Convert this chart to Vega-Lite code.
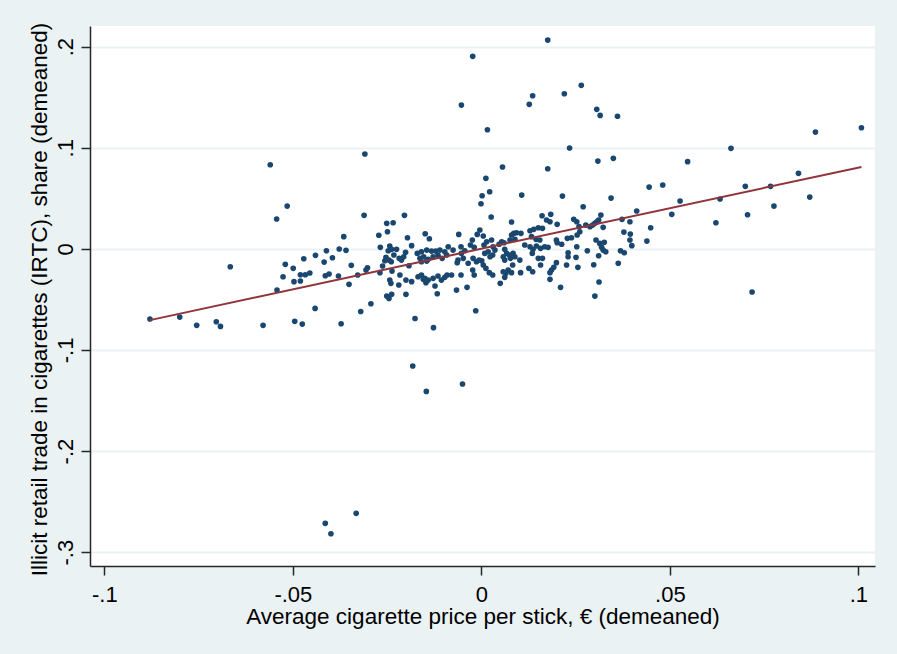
{
  "$schema": "https://vega.github.io/schema/vega-lite/v6.json",
  "width": 785,
  "height": 540,
  "autosize": {"type": "none"},
  "padding": {"left": 90, "top": 26, "right": 22, "bottom": 88},
  "background": "#EAF2F3",
  "config": {
    "view": {"fill": "#FFFFFF", "stroke": null},
    "font": "Liberation Sans",
    "axis": {
      "labelFont": "Liberation Sans",
      "titleFont": "Liberation Sans",
      "labelColor": "#000000",
      "titleColor": "#000000",
      "titleFontWeight": "normal",
      "labelFontSize": 22,
      "titleFontSize": 22.5,
      "domainColor": "#262626",
      "domainWidth": 1.5,
      "tickColor": "#262626",
      "tickWidth": 1.5,
      "tickSize": 9,
      "gridColor": "#EAF2F3",
      "gridWidth": 2,
      "gridOpacity": 1
    }
  },
  "datasets": {
    "pts": [
      {"x":-0.0560,"y":0.0832},{"x":-0.0515,"y":0.0423},{"x":-0.0543,"y":0.0295},{"x":-0.0666,"y":-0.0177},{"x":-0.0411,"y":-0.0019},{"x":-0.0440,"y":-0.0064},{"x":-0.0471,"y":-0.0098},{"x":-0.0417,"y":-0.0131},{"x":-0.0520,"y":-0.0153},{"x":-0.0499,"y":-0.0193},{"x":-0.0455,"y":-0.0239},{"x":-0.0467,"y":-0.0256},{"x":-0.0480,"y":-0.0256},{"x":-0.0414,"y":-0.0266},{"x":-0.0404,"y":-0.0249},{"x":-0.0526,"y":-0.0276},{"x":-0.0497,"y":-0.0325},{"x":-0.0480,"y":-0.0318},{"x":-0.0542,"y":-0.0408},{"x":-0.0441,"y":-0.0589},{"x":-0.0879,"y":-0.0694},{"x":-0.0800,"y":-0.0675},{"x":-0.0755,"y":-0.0757},{"x":-0.0703,"y":-0.0721},{"x":-0.0692,"y":-0.0767},{"x":-0.0579,"y":-0.0757},{"x":-0.0495,"y":-0.0717},{"x":-0.0475,"y":-0.0744},
      {"x":-0.0311,"y":0.0331},{"x":-0.0204,"y":0.0331},{"x":-0.0251,"y":0.0252},{"x":-0.0234,"y":0.0258},{"x":-0.0249,"y":0.0169},{"x":-0.0272,"y":0.0134},{"x":-0.0365,"y":0.0120},{"x":-0.0149,"y":0.0149},{"x":-0.0138,"y":0.0100},{"x":-0.0196,"y":0.0110},{"x":-0.0185,"y":0.0031},{"x":-0.0268,"y":0.0015},{"x":-0.0243,"y":0.0028},{"x":-0.0377,"y":-0.0002},{"x":-0.0359,"y":-0.0015},{"x":-0.0395,"y":-0.0088},
      {"x":-0.0247,"y":-0.0019},{"x":-0.0238,"y":-0.0005},{"x":-0.0253,"y":-0.0084},{"x":-0.0245,"y":-0.0111},{"x":-0.0232,"y":-0.0061},{"x":-0.0225,"y":-0.0005},{"x":-0.0218,"y":-0.0094},{"x":-0.0212,"y":-0.0111},{"x":-0.0206,"y":-0.0078},{"x":-0.0201,"y":-0.0035},{"x":-0.0239,"y":-0.0128},{"x":-0.0256,"y":-0.0118},
      {"x":-0.0170,"y":-0.0045},{"x":-0.0159,"y":-0.0029},{"x":-0.0145,"y":-0.0012},{"x":-0.0132,"y":-0.0022},{"x":-0.0121,"y":-0.0022},{"x":-0.0110,"y":-0.0012},{"x":-0.0097,"y":-0.0029},{"x":-0.0088,"y":0.0021},
      {"x":-0.0163,"y":-0.0094},{"x":-0.0153,"y":-0.0078},{"x":-0.0141,"y":-0.0104},{"x":-0.0128,"y":-0.0078},{"x":-0.0115,"y":-0.0064},{"x":-0.0104,"y":-0.0094},{"x":-0.0092,"y":-0.0061},{"x":-0.0159,"y":-0.0128},{"x":-0.0145,"y":-0.0121},
      {"x":-0.0345,"y":-0.0163},{"x":-0.0302,"y":-0.0187},{"x":-0.0306,"y":-0.0210},{"x":-0.0262,"y":-0.0170},{"x":-0.0269,"y":-0.0236},{"x":-0.0237,"y":-0.0220},{"x":-0.0192,"y":-0.0167},{"x":-0.0379,"y":-0.0269},{"x":-0.0328,"y":-0.0259},{"x":-0.0351,"y":-0.0351},{"x":-0.0216,"y":-0.0259},{"x":-0.0243,"y":-0.0309},{"x":-0.0240,"y":-0.0341},{"x":-0.0200,"y":-0.0309},{"x":-0.0185,"y":-0.0325},{"x":-0.0219,"y":-0.0358},
      {"x":-0.0168,"y":-0.0276},{"x":-0.0159,"y":-0.0259},{"x":-0.0154,"y":-0.0302},{"x":-0.0147,"y":-0.0335},{"x":-0.0150,"y":-0.0292},{"x":-0.0141,"y":-0.0309},{"x":-0.0128,"y":-0.0292},{"x":-0.0115,"y":-0.0269},{"x":-0.0106,"y":-0.0309},{"x":-0.0097,"y":-0.0282},{"x":-0.0091,"y":-0.0259},{"x":-0.0123,"y":-0.0368},{"x":-0.0117,"y":-0.0444},
      {"x":-0.0251,"y":-0.0467},{"x":-0.0245,"y":-0.0490},{"x":-0.0238,"y":-0.0450},{"x":-0.0200,"y":-0.0450},{"x":-0.0293,"y":-0.0543},{"x":-0.0320,"y":-0.0620},{"x":-0.0176,"y":-0.0689},
      {"x":-0.0372,"y":-0.0741},{"x":-0.0127,"y":-0.0780},{"x":-0.0015,"y":-0.0612},{"x":-0.0182,"y":-0.1159},{"x":-0.0146,"y":-0.1410},{"x":-0.0050,"y":-0.1337},
      {"x":-0.0414,"y":-0.2715},{"x":-0.0399,"y":-0.2818},{"x":-0.0332,"y":-0.2616},{"x":-0.0309,"y":0.0938},
      {"x":0.0002,"y":0.0525},{"x":0.0022,"y":0.0565},{"x":-0.0001,"y":0.0446},{"x":0.0107,"y":0.0532},{"x":0.0215,"y":0.0522},{"x":0.0026,"y":0.0315},{"x":0.0080,"y":0.0265},{"x":0.0161,"y":0.0327},{"x":0.0184,"y":0.0341},{"x":0.0173,"y":0.0285},{"x":0.0201,"y":0.0242},{"x":0.0182,"y":0.0268},
      {"x":-0.0004,"y":0.0186},{"x":-0.0011,"y":0.0143},{"x":-0.0060,"y":0.0143},{"x":-0.0075,"y":-0.0012},{"x":-0.0054,"y":0.0021},{"x":-0.0024,"y":0.0087},{"x":-0.0029,"y":0.0038},{"x":-0.0019,"y":0.0015},
      {"x":0.0005,"y":0.0127},{"x":0.0014,"y":0.0070},{"x":0.0007,"y":0.0038},{"x":0.0027,"y":0.0087},{"x":0.0031,"y":0.0021},{"x":0.0054,"y":0.0070},{"x":0.0047,"y":0.0045},{"x":0.0060,"y":0.0060},
      {"x":0.0080,"y":0.0137},{"x":0.0086,"y":0.0153},{"x":0.0093,"y":0.0159},{"x":0.0105,"y":0.0153},{"x":0.0076,"y":0.0087},{"x":0.0089,"y":0.0094},
      {"x":0.0129,"y":0.0179},{"x":0.0139,"y":0.0193},{"x":0.0151,"y":0.0209},{"x":0.0162,"y":0.0203},{"x":0.0133,"y":0.0120},{"x":0.0145,"y":0.0094},{"x":0.0155,"y":0.0087},
      {"x":0.0199,"y":0.0087},{"x":0.0201,"y":0.0060},{"x":0.0213,"y":0.0045},{"x":0.0228,"y":0.0104},
      {"x":-0.0062,"y":-0.0111},{"x":-0.0064,"y":-0.0137},{"x":-0.0048,"y":-0.0094},{"x":-0.0053,"y":-0.0045},{"x":-0.0044,"y":-0.0019},{"x":-0.0035,"y":-0.0143},{"x":-0.0022,"y":-0.0094},{"x":-0.0013,"y":-0.0128},{"x":-0.0006,"y":-0.0111},{"x":0.0001,"y":-0.0118},{"x":0.0005,"y":-0.0160},{"x":0.0009,"y":-0.0045},{"x":0.0018,"y":-0.0029},{"x":0.0023,"y":-0.0078},{"x":0.0030,"y":-0.0061},{"x":0.0036,"y":-0.0012},
      {"x":0.0062,"y":-0.0005},{"x":0.0067,"y":-0.0045},{"x":0.0058,"y":-0.0078},{"x":0.0074,"y":-0.0061},{"x":0.0077,"y":-0.0094},{"x":0.0084,"y":-0.0045},{"x":0.0089,"y":-0.0078},{"x":0.0102,"y":-0.0111},{"x":0.0062,"y":-0.0111},
      {"x":0.0115,"y":0.0038},{"x":0.0129,"y":0.0021},{"x":0.0137,"y":-0.0005},{"x":0.0146,"y":0.0028},{"x":0.0157,"y":0.0005},{"x":0.0168,"y":0.0021},{"x":0.0177,"y":0.0015},{"x":0.0135,"y":-0.0045},
      {"x":0.0151,"y":-0.0094},{"x":0.0162,"y":-0.0094},{"x":0.0157,"y":-0.0160},{"x":0.0199,"y":-0.0137},{"x":0.0192,"y":-0.0183},{"x":0.0186,"y":-0.0210},{"x":0.0182,"y":-0.0236},{"x":0.0226,"y":-0.0160},{"x":0.0230,"y":-0.0039},{"x":0.0230,"y":-0.0078},
      {"x":-0.0079,"y":-0.0259},{"x":-0.0054,"y":-0.0259},{"x":-0.0023,"y":-0.0210},{"x":-0.0019,"y":-0.0259},{"x":0.0012,"y":-0.0193},{"x":0.0021,"y":-0.0236},{"x":0.0030,"y":-0.0259},{"x":0.0058,"y":-0.0227},{"x":0.0065,"y":-0.0242},{"x":0.0062,"y":-0.0282},{"x":0.0071,"y":-0.0210},{"x":0.0083,"y":-0.0160},{"x":0.0080,"y":-0.0236},{"x":0.0104,"y":-0.0236},{"x":0.0126,"y":-0.0193},{"x":0.0136,"y":-0.0227},
      {"x":0.0182,"y":-0.0302},{"x":0.0210,"y":-0.0381},{"x":-0.0066,"y":-0.0408},{"x":-0.0038,"y":-0.0381},{"x":0.0050,"y":-0.0341},
      {"x":0.0445,"y":0.0611},{"x":0.0481,"y":0.0631},{"x":0.0527,"y":0.0473},{"x":0.0344,"y":0.0502},{"x":0.0270,"y":0.0416},
      {"x":0.0245,"y":0.0292},{"x":0.0253,"y":0.0268},{"x":0.0277,"y":0.0235},{"x":0.0288,"y":0.0219},{"x":0.0295,"y":0.0235},{"x":0.0306,"y":0.0268},{"x":0.0311,"y":0.0285},{"x":0.0317,"y":0.0334},{"x":0.0301,"y":0.0252},{"x":0.0323,"y":0.0213},{"x":0.0259,"y":0.0219},{"x":0.0261,"y":0.0169},{"x":0.0254,"y":0.0137},{"x":0.0239,"y":0.0110},
      {"x":0.0373,"y":0.0292},{"x":0.0394,"y":0.0268},{"x":0.0412,"y":0.0374},{"x":0.0505,"y":0.0341},
      {"x":0.0378,"y":0.0166},{"x":0.0395,"y":0.0146},{"x":0.0449,"y":0.0209},{"x":0.0439,"y":0.0077},{"x":0.0394,"y":0.0087},{"x":0.0399,"y":0.0031},{"x":0.0304,"y":0.0087},{"x":0.0314,"y":0.0054},{"x":0.0326,"y":0.0064},{"x":0.0319,"y":0.0015},{"x":0.0323,"y":-0.0012},{"x":0.0330,"y":-0.0029},{"x":0.0253,"y":0.0021},{"x":0.0281,"y":-0.0019},{"x":0.0251,"y":-0.0084},{"x":0.0311,"y":-0.0068},{"x":0.0256,"y":-0.0183},{"x":0.0298,"y":-0.0157},{"x":0.0363,"y":-0.0143},{"x":0.0369,"y":-0.0019},{"x":0.0379,"y":-0.0039},
      {"x":0.0312,"y":-0.0328},{"x":0.0301,"y":-0.0467},
      {"x":0.0176,"y":0.2065},{"x":-0.0023,"y":0.1904},{"x":0.0265,"y":0.1617},{"x":0.0220,"y":0.1534},{"x":0.0136,"y":0.1514},{"x":0.0127,"y":0.1429},{"x":-0.0053,"y":0.1422},{"x":0.0306,"y":0.1380},{"x":0.0315,"y":0.1320},{"x":0.0361,"y":0.1311},{"x":0.0016,"y":0.1178},{"x":0.0234,"y":0.0997},{"x":0.0309,"y":0.0868},{"x":0.0350,"y":0.0895},{"x":0.0056,"y":0.0809},{"x":0.0176,"y":0.0792},{"x":0.0012,"y":0.0697},
      {"x":0.1008,"y":0.1198},{"x":0.0886,"y":0.1155},{"x":0.0662,"y":0.0994},{"x":0.0547,"y":0.0862},{"x":0.0841,"y":0.0747},{"x":0.0700,"y":0.0618},{"x":0.0767,"y":0.0618},{"x":0.0633,"y":0.0493},{"x":0.0871,"y":0.0512},{"x":0.0776,"y":0.0423},{"x":0.0706,"y":0.0337},{"x":0.0622,"y":0.0258},{"x":0.0718,"y":-0.0427}
    ],
    "fit": [
      {"x": -0.0879, "y": -0.0705},
      {"x": 0.1008, "y": 0.0810}
    ]
  },
  "layer": [
    {
      "data": {"name": "pts"},
      "mark": {"type": "circle", "size": 32, "color": "#1A476F", "opacity": 1},
      "encoding": {
        "x": {
          "field": "x",
          "type": "quantitative",
          "scale": {"domain": [-0.1038, 0.1044], "nice": false, "zero": false},
          "axis": {
            "title": "Average cigarette price per stick, € (demeaned)",
            "values": [-0.1, -0.05, 0, 0.05, 0.1],
            "labelExpr": "(datum.value < 0 ? '-' : '') + replace(format(abs(datum.value), '.2~f'), '0.', '.')",
            "grid": false,
            "labelPadding": 9,
            "labelFlush": false,
            "titleBaseline": "alphabetic",
            "titleY": 57,
            "titleX": 392.5,
            "titleAlign": "center"
          }
        },
        "y": {
          "field": "y",
          "type": "quantitative",
          "scale": {"domain": [-0.3137, 0.2204], "nice": false, "zero": false},
          "axis": {
            "title": "Illicit retail trade in cigarettes (IRTC), share (demeaned)",
            "values": [-0.3, -0.2, -0.1, 0, 0.1, 0.2],
            "labelExpr": "(datum.value < 0 ? '-' : '') + replace(format(abs(datum.value), '.2~f'), '0.', '.')",
            "grid": true,
            "labelAngle": -90,
            "labelAlign": "center",
            "labelBaseline": "alphabetic",
            "labelPadding": 9,
            "labelFlush": false,
            "titleAngle": -90,
            "titleAlign": "center",
            "titleBaseline": "alphabetic",
            "titleX": -44,
            "titleY": 273
          }
        }
      }
    },
    {
      "data": {"name": "fit"},
      "mark": {"type": "line", "color": "#90353B", "strokeWidth": 2},
      "encoding": {
        "x": {"field": "x", "type": "quantitative"},
        "y": {"field": "y", "type": "quantitative"}
      }
    }
  ]
}
